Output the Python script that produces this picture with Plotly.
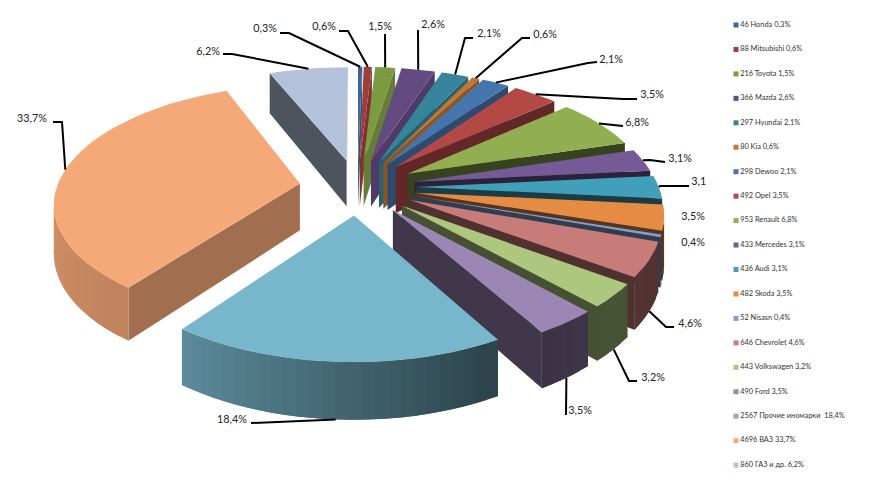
import numpy as np
import plotly.graph_objects as go

# ---------- data ----------
brands = ["Honda", "Mitsubishi", "Toyota", "Mazda", "Hyundai", "Kia", "Dewoo", "Opel", "Renault",
          "Mercedes", "Audi", "Skoda", "Nisasn", "Chevrolet", "Volkswagen", "Ford",
          "Прочие иномарки ", "ВАЗ", "ГАЗ и др."]
counts = [46, 88, 216, 366, 297, 80, 298, 492, 953, 433, 436, 482, 52, 646, 443, 490, 2567, 4696, 860]
shares = ["0,3%", "0,6%", "1,5%", "2,6%", "2,1%", "0,6%", "2,1%", "3,5%", "6,8%", "3,1%", "3,1%",
          "3,5%", "0,4%", "4,6%", "3,2%", "3,5%", "18,4%", "33,7%", "6,2%"]
colors = ["#3A659E", "#A03D3B", "#7C9A42", "#634A80", "#35849A", "#C27732", "#4675AE", "#B34845",
          "#91AE50", "#755A97", "#429FBA", "#E58B43", "#7F9FCE", "#C77C7A", "#ADC77F", "#9B86B4",
          "#78B6CC", "#F5A878", "#B3C2DA"]

# label layout: text centre, and the leader's text-side points (none where no leader is drawn)
label_x = [265, 324, 380, 433, 489, 545, 611, 652, 637, 680, 703, 693, 693, 690, 653, 580, 232, 32, 208]
label_y = [29, 27, 27, 25, 34, 35, 60, 95, 123, 159, 182, 217, 243, 324, 378, 411, 420, 119, 52]
leaders = [[(280, 33), (289, 33)], [(339, 31), (348, 31)], [(385, 34)], [(418, 30)],
           [(473, 38), (465, 38)], [(530, 38), (522, 38)], [(597, 62), (588, 63)], [(637, 99), (623, 99)],
           [(623, 126)], [(665, 162), (650, 160)], [(689, 186), (660, 186)], None, None,
           [(674, 327), (666, 327)], [(637, 381), (629, 381)], [(566, 415)],
           [(251, 423)], [(53, 122), (62, 122)], [(223, 54), (232, 54)]]

# ---------- pie geometry: a tilted disc in perspective, drawn in pixel space ----------
CX, CY, A, B, P, EXPLODE, DEPTH = 357.5, 187, 243, 115, 0.15, 0.24, 47


def project(x, y, drop=0.0):
    s = 1 / (1 + P * y)
    return CX + A * x * s, CY - B * y * s + drop * s


def shade(hex_color, f):
    rgb = [int(hex_color[i:i + 2], 16) for i in (1, 3, 5)]
    return "rgb(%d,%d,%d)" % tuple(round(v * f) for v in rgb)


def edge_shade(deg):
    return float(np.interp(deg, [0, 20, 35, 48, 69, 100, 150, 216, 300, 337, 360],
                           [.82, .8, .65, .55, .38, .38, .41, .66, .5, .42, .8]))


def wall_shade(deg):
    return float(np.interp(deg, [90, 130, 150, 180, 216, 270, 300],
                           [.4, .42, .37, .56, .78, .88, .92]))


fig = go.Figure()


def poly(xs, ys, color, name):
    fig.add_trace(go.Scatter(x=xs, y=ys, mode="lines", fill="toself", fillcolor=color, hoverinfo="skip",
                             line=dict(color=color, width=0), showlegend=False, name=name))


fractions = np.array(counts) / sum(counts)
ends = np.cumsum(fractions) * 360
starts = ends - fractions * 360
mids = (starts + ends) / 2
apex = [(EXPLODE * np.sin(np.radians(m)), EXPLODE * np.cos(np.radians(m))) for m in mids]
anchors = {}

for i in np.argsort([-a[1] for a in apex]):
    ax, ay = apex[i]
    col = colors[i]
    n = max(2, int((ends[i] - starts[i]) / 2.5) + 1)
    th = np.linspace(starts[i], ends[i], n)
    ox = ax + np.sin(np.radians(th))
    oy = ay + np.cos(np.radians(th))
    tx, ty = project(ox, oy)
    px, py = project(ax, ay)
    mx, my = project(ax + np.sin(np.radians(mids[i])), ay + np.cos(np.radians(mids[i])))

    # radial walls that face the viewer
    for k, deg in ((0, starts[i]), (-1, ends[i])):
        ex, ey = tx[k] - px, ty[k] - py
        side = ex * (my - py) - ey * (mx - px)
        if side * ex > 0:
            continue
        bx, by = project(ox[k], oy[k], DEPTH)
        cx, cy = project(ax, ay, DEPTH)
        poly([px, tx[k], bx, cx, px], [py, ty[k], by, cy, py], shade(col, edge_shade(deg)), brands[i])

    # outer wall: narrow overlapping bands, from the last band back to the first,
    # so that the shading runs along the arc with no seams between them
    bx, by = project(ox, oy, DEPTH)
    for j in range(n - 2, -1, -1):
        if tx[j + 1] < tx[j]:
            e = min(j + 2, n - 1)
            poly([tx[j], *tx[j + 1:e + 1], *bx[j + 1:e + 1][::-1], bx[j], tx[j]],
                 [ty[j], *ty[j + 1:e + 1], *by[j + 1:e + 1][::-1], by[j], ty[j]],
                 shade(col, wall_shade((th[j] + th[j + 1]) / 2)), brands[i])

    # top face
    poly([px, *tx, px], [py, *ty, py], col, brands[i])

    near = 115 < mids[i] < 250
    anchors[i] = project(ax + np.sin(np.radians(mids[i])), ay + np.cos(np.radians(mids[i])), DEPTH if near else 0)

# leader lines
for i, pts in enumerate(leaders):
    if pts:
        fig.add_trace(go.Scatter(x=[p[0] for p in pts] + [anchors[i][0]], y=[p[1] for p in pts] + [anchors[i][1]],
                                 mode="lines", line=dict(color="black", width=2), hoverinfo="skip", showlegend=False))

# data labels
fig.add_trace(go.Scatter(x=label_x, y=label_y, mode="text", text=shares, textposition="middle center",
                         textfont=dict(family="Lato, 'Noto Sans'", size=10.8, color="#222"),
                         hoverinfo="skip", showlegend=False))

# legend column
legend_text = [f"{c} {b} {s}" for c, b, s in zip(counts, brands, shares)]
legend_y = [25 + 24.45 * k for k in range(len(brands))]
fig.add_trace(go.Scatter(x=[736] * len(brands), y=legend_y, mode="markers+text", text=legend_text,
                         textposition="middle right",
                         marker=dict(symbol="square", size=5, color=colors),
                         textfont=dict(family="Lato, 'Noto Sans'", size=7.4, color="#333"),
                         hoverinfo="skip", showlegend=False))

fig.update_layout(
    width=875, height=480, margin=dict(l=0, r=0, t=0, b=0), showlegend=False,
    paper_bgcolor="white", plot_bgcolor="white",
    xaxis=dict(range=[0, 875], visible=False, fixedrange=True),
    yaxis=dict(range=[480, 0], visible=False, fixedrange=True),
    shapes=[dict(type="rect", xref="x", yref="y", x0=706, x1=728, y0=170, y1=195,
                 fillcolor="white", line=dict(width=0), layer="above")],
)
fig.write_html("out.html", post_script="document.body.style.margin='0';",
               config=dict(displayModeBar=False))
